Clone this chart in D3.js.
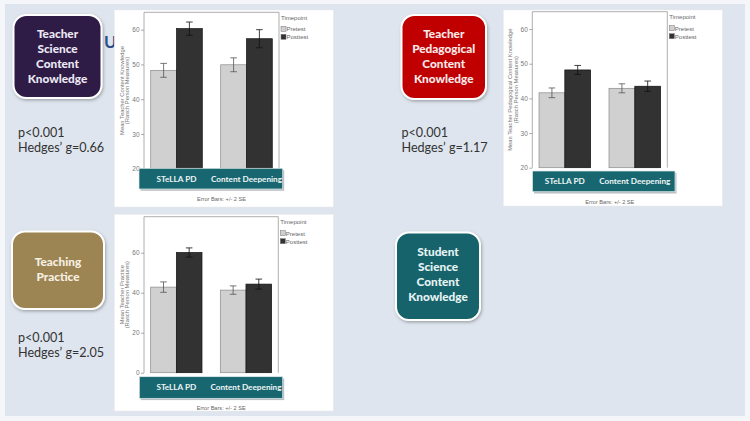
<!DOCTYPE html>
<html>
<head>
<meta charset="utf-8">
<script src="https://cdn.jsdelivr.net/npm/d3@7"></script>
<style>
  body { margin: 0; background: #f4f6f9; }
  svg { display: block; }
</style>
</head>
<body>
<div id="slide"></div>
<script>
// ---- data ----
const groups = ["STeLLA PD", "Content Deepening"];
const timepoints = ["Pretest", "Posttest"];

// teacher science content knowledge
const ckPre = [48.3, 49.9];
const ckPreErr = [2.0, 2.0];
const ckPost = [60.3, 57.4];
const ckPostErr = [1.9, 2.6];
const ckTicks = [20, 30, 40, 50, 60];

// teacher pedagogical content knowledge
const pckPre = [41.6, 42.9];
const pckPreErr = [1.4, 1.3];
const pckPost = [48.2, 43.5];
const pckPostErr = [1.3, 1.5];
const pckTicks = [20, 30, 40, 50, 60];

// teaching practice
const tpPre = [42.8, 41.3];
const tpPreErr = [2.6, 2.1];
const tpPost = [60.1, 44.3];
const tpPostErr = [2.3, 2.5];
const tpTicks = [0, 20, 40, 60];

const boxLabels = [
  ["Teacher", "Science", "Content", "Knowledge"],
  ["Teacher", "Pedagogical", "Content", "Knowledge"],
  ["Teaching", "Practice"],
  ["Student", "Science", "Content", "Knowledge"]
];
const pValues = ["p<0.001", "p<0.001", "p<0.001"];
const effectSizes = ["Hedges\u2019 g=0.66", "Hedges\u2019 g=1.17", "Hedges\u2019 g=2.05"];

const width = 750;
const height = 421;

const svg = d3.select("#slide")
  .append("svg")
  .attr("width", width)
  .attr("height", height);

const defs = svg.append("defs");
defs.append("filter")
  .attr("id", "shadow")
  .attr("x", "-20%").attr("y", "-20%")
  .attr("width", "140%").attr("height", "140%")
  .append("feDropShadow")
  .attr("dx", 1).attr("dy", 1.5)
  .attr("stdDeviation", 1.5)
  .attr("flood-color", "#555")
  .attr("flood-opacity", 0.45);

// slide background
svg.append("rect")
  .attr("x", 5).attr("y", 4)
  .attr("width", 740).attr("height", 412)
  .attr("fill", "#dee5ee");

// bit of the hidden slide title peeking out
svg.append("text")
  .attr("x", 104).attr("y", 48)
  .attr("font-family", "Lato, sans-serif")
  .attr("font-weight", "bold")
  .attr("font-size", 17)
  .attr("fill", "#2c4f8c")
  .text("U");

// ---- coloured topic boxes ----
const boxes = [
  { x: 13.5, y: 15, w: 88, h: 83, fill: "#2e1b46", text: "#ece8f3", lines: boxLabels[0], ty: 33.5 },
  { x: 401.5, y: 15, w: 84.5, h: 84, fill: "#c00000", text: "#fbeaea", lines: boxLabels[1], ty: 34 },
  { x: 12, y: 231.5, w: 92, h: 77.5, fill: "#9c8452", text: "#f6f0e2", lines: boxLabels[2], ty: 261.5 },
  { x: 396, y: 232.5, w: 84, h: 87.5, fill: "#17646c", text: "#e6f3f3", lines: boxLabels[3], ty: 252.3 }
];

boxes.forEach(b => {
  svg.append("rect")
    .attr("x", b.x).attr("y", b.y)
    .attr("width", b.w).attr("height", b.h)
    .attr("rx", 13)
    .attr("fill", b.fill)
    .attr("stroke", "#fff")
    .attr("stroke-width", 2)
    .attr("filter", "url(#shadow)");

  svg.append("g")
    .selectAll("text")
    .data(b.lines)
    .join("text")
    .attr("x", b.x + b.w / 2)
    .attr("y", (d, i) => b.ty + i * 15)
    .attr("dy", "0.35em")
    .attr("text-anchor", "middle")
    .attr("font-family", "Lato, sans-serif")
    .attr("font-weight", "900")
    .attr("font-size", 11.8)
    .attr("fill", b.text)
    .text(d => d);
});

// ---- p values / effect sizes ----
const statPos = [
  { x: 18, y: 132.7 },
  { x: 401.5, y: 132.7 },
  { x: 18, y: 337.7 }
];
statPos.forEach((p, i) => {
  svg.append("g")
    .selectAll("text")
    .data([pValues[i], effectSizes[i]])
    .join("text")
    .attr("x", p.x)
    .attr("y", (d, j) => p.y + j * 15.2)
    .attr("dy", "0.35em")
    .attr("font-family", "Lato, sans-serif")
    .attr("font-size", 12.6)
    .attr("fill", "#333")
    .text(d => d);
});

// ---- bar charts ----
const charts = [
  {
    panel: { x: 114.3, y: 10, w: 219, h: 197 },
    frame: { left: 144, top: 12.3, right: 279, bottom: 168.7 },
    band: { x: 139, y: 168.3, w: 143.7, h: 20.7 },
    domain: [20, 65], ticks: ckTicks,
    title: ["Mean Teacher Content Knowledge", "(Rasch Person Measures)"],
    pre: ckPre, preErr: ckPreErr, post: ckPost, postErr: ckPostErr
  },
  {
    panel: { x: 503.3, y: 10, w: 219, h: 196 },
    frame: { left: 532.3, top: 11.7, right: 667.3, bottom: 167.7 },
    band: { x: 532.5, y: 171, w: 142.5, h: 20.7 },
    domain: [20, 65], ticks: pckTicks,
    title: ["Mean Teacher Pedagogical Content Knowledge", "(Rasch Person Measures)"],
    pre: pckPre, preErr: pckPreErr, post: pckPost, postErr: pckPostErr
  },
  {
    panel: { x: 114.3, y: 214.3, w: 219, h: 196.7 },
    frame: { left: 144, top: 216.7, right: 278.3, bottom: 372.7 },
    band: { x: 139.3, y: 376.7, w: 143.4, h: 21.6 },
    domain: [0, 78], ticks: tpTicks,
    title: ["Mean Teacher Practice", "(Rasch Person Measures)"],
    pre: tpPre, preErr: tpPreErr, post: tpPost, postErr: tpPostErr
  }
];

const barColor = d3.scaleOrdinal().domain(timepoints).range(["#d0d0d0", "#323232"]);
const barStroke = d3.scaleOrdinal().domain(timepoints).range(["#8a8a8a", "#111"]);

charts.forEach(c => {
  const g = svg.append("g");
  const f = c.frame;

  g.append("rect")
    .attr("x", c.panel.x).attr("y", c.panel.y)
    .attr("width", c.panel.w).attr("height", c.panel.h)
    .attr("fill", "#fff")
    .attr("stroke", "#eaeaea")
    .attr("stroke-width", 0.5);

  const y = d3.scaleLinear().domain(c.domain).range([f.bottom, f.top]);
  const x0 = d3.scaleBand().domain(groups).range([f.left, f.right])
    .paddingInner(0.263).paddingOuter(0.096);
  const x1 = d3.scaleBand().domain(timepoints).range([0, x0.bandwidth()]);

  // plot frame (left, top, right)
  g.append("path")
    .attr("d", `M${f.left},${f.bottom}V${f.top}H${f.right}V${f.bottom}`)
    .attr("fill", "none")
    .attr("stroke", "#9a9a9a")
    .attr("stroke-width", 0.8);

  // y axis
  const yAxis = g.append("g")
    .attr("transform", `translate(${f.left},0)`)
    .call(d3.axisLeft(y).tickValues(c.ticks).tickSize(3).tickPadding(1.5));
  yAxis.select(".domain").remove();
  yAxis.selectAll("line").attr("stroke", "#888").attr("stroke-width", 0.7);
  yAxis.selectAll("text")
    .attr("fill", "#777")
    .attr("font-family", "Arial, sans-serif")
    .attr("font-size", 6.5);

  // y title
  const cy = (f.top + f.bottom) / 2;
  g.append("text")
    .attr("transform", `translate(${f.left - 20.5},${cy}) rotate(-90)`)
    .attr("text-anchor", "middle")
    .attr("font-family", "Arial, sans-serif")
    .attr("font-size", 5.8)
    .attr("fill", "#777")
    .selectAll("tspan")
    .data(c.title)
    .join("tspan")
    .attr("x", 0)
    .attr("dy", (d, i) => i === 0 ? 0 : 5.8)
    .text(d => d);

  // bars
  const rows = [];
  groups.forEach((grp, i) => {
    rows.push({ group: grp, tp: timepoints[0], v: c.pre[i], e: c.preErr[i] });
    rows.push({ group: grp, tp: timepoints[1], v: c.post[i], e: c.postErr[i] });
  });

  g.append("g")
    .selectAll("rect")
    .data(rows)
    .join("rect")
    .attr("x", d => x0(d.group) + x1(d.tp))
    .attr("y", d => y(d.v))
    .attr("width", x1.bandwidth())
    .attr("height", d => y(c.domain[0]) - y(d.v))
    .attr("fill", d => barColor(d.tp))
    .attr("stroke", d => barStroke(d.tp))
    .attr("stroke-width", 0.7);

  // error bars (+/- 2 SE)
  const eb = g.append("g")
    .selectAll("g")
    .data(rows)
    .join("g")
    .attr("transform", d => `translate(${x0(d.group) + x1(d.tp) + x1.bandwidth() / 2},0)`)
    .attr("stroke", d => d.tp === "Pretest" ? "#555" : "#111")
    .attr("stroke-width", 0.8);
  eb.append("line")
    .attr("y1", d => y(d.v - d.e)).attr("y2", d => y(d.v + d.e));
  eb.append("line")
    .attr("x1", -3.3).attr("x2", 3.3)
    .attr("y1", d => y(d.v + d.e)).attr("y2", d => y(d.v + d.e));
  eb.append("line")
    .attr("x1", -3.3).attr("x2", 3.3)
    .attr("y1", d => y(d.v - d.e)).attr("y2", d => y(d.v - d.e));

  // teal category band with labels
  const b = c.band;
  g.append("rect")
    .attr("x", b.x + 1.5).attr("y", b.y + 1.8)
    .attr("width", b.w).attr("height", b.h)
    .attr("fill", "#b9bfc3");
  g.append("rect")
    .attr("x", b.x).attr("y", b.y)
    .attr("width", b.w).attr("height", b.h)
    .attr("fill", "#176670")
    .attr("stroke", "#dfeaec")
    .attr("stroke-width", 0.7);
  g.append("g")
    .selectAll("text")
    .data(groups)
    .join("text")
    .attr("x", d => x0(d) + x0.bandwidth() / 2)
    .attr("y", b.y + b.h / 2)
    .attr("dy", "0.35em")
    .attr("text-anchor", "middle")
    .attr("font-family", "Lato, sans-serif")
    .attr("font-weight", "bold")
    .attr("font-size", 8.2)
    .attr("fill", "#eef5f5")
    .text(d => d);

  // legend
  const lx = f.right + 2;
  const lg = g.append("g")
    .attr("font-family", "Arial, sans-serif")
    .attr("font-size", 6)
    .attr("fill", "#666");
  lg.append("text")
    .attr("x", lx).attr("y", f.top + 7.5)
    .text("Timepoint");
  timepoints.forEach((tp, i) => {
    const ly = f.top + 14 + i * 8;
    lg.append("rect")
      .attr("x", lx).attr("y", ly)
      .attr("width", 5).attr("height", 5)
      .attr("fill", barColor(tp))
      .attr("stroke", "#777")
      .attr("stroke-width", 0.5);
    lg.append("text")
      .attr("x", lx + 5.5).attr("y", ly + 4.8)
      .text(tp);
  });

  // footer
  g.append("text")
    .attr("x", (f.left + f.right) / 2 + 10)
    .attr("y", b.y + b.h + 12)
    .attr("text-anchor", "middle")
    .attr("font-family", "Arial, sans-serif")
    .attr("font-size", 5.6)
    .attr("fill", "#666")
    .text("Error Bars: +/- 2 SE");
});
</script>
</body>
</html>
